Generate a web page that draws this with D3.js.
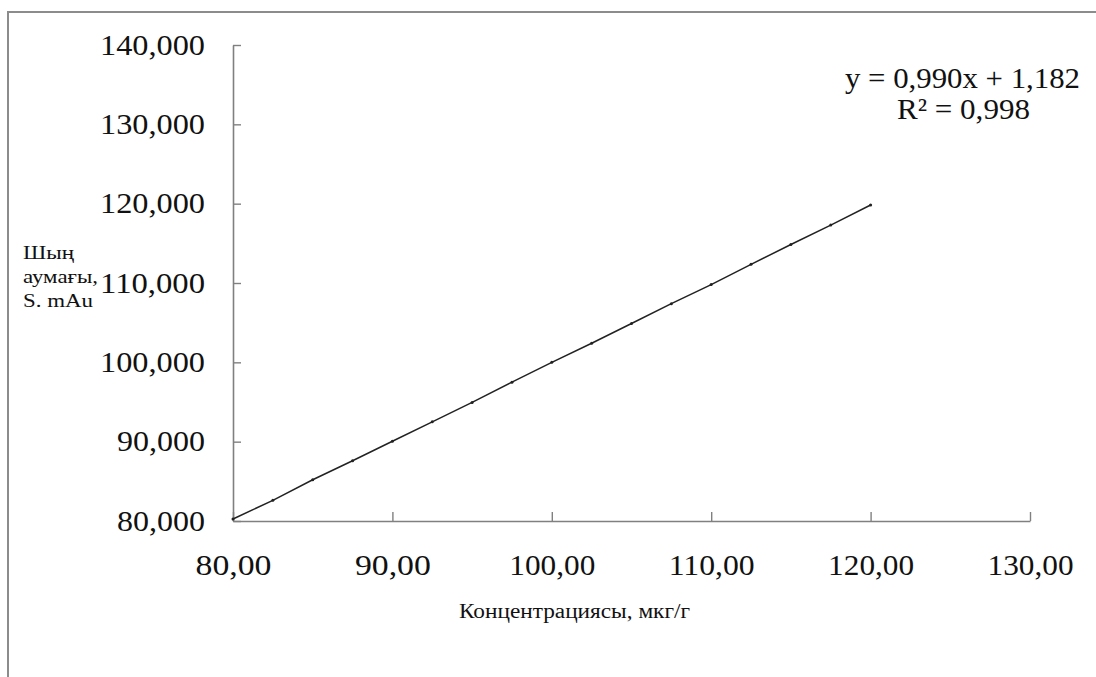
<!DOCTYPE html>
<html>
<head>
<meta charset="utf-8">
<script src="https://cdn.jsdelivr.net/npm/d3@7"></script>
<style>
  html, body { margin: 0; padding: 0; background: #fff; }
  svg { display: block; }
  text { font-family: "Times New Roman", "Liberation Serif", serif; fill: #111; }
</style>
</head>
<body>
<svg id="chart" width="1096" height="677"></svg>
<script>
// Calibration data: concentration (мкг/г) vs peak area (S. mAu)
const concentration = [80, 82.5, 85, 87.5, 90, 92.5, 95, 97.5, 100, 102.5, 105, 107.5, 110, 112.5, 115, 117.5, 120];
const peakArea = [80250, 82600, 85200, 87600, 90050, 92500, 94950, 97500, 100000, 102400, 104900, 107400, 109800, 112350, 114850, 117300, 119830];

const xTicks = [80, 90, 100, 110, 120, 130];
const yTicks = [80000, 90000, 100000, 110000, 120000, 130000, 140000];

const xTitle = "Концентрациясы, мкг/г";
const yTitleLines = ["Шың", "аумағы,", "S. mAu"];
const equationLines = ["y = 0,990x + 1,182", "R² = 0,998"];

const serif = "'Times New Roman', 'Liberation Serif', serif";
const svg = d3.select("#chart");
const W = 1096, H = 677;

// outer frame
svg.append("rect")
  .attr("x", 8).attr("y", 12)
  .attr("width", W).attr("height", H)
  .attr("fill", "none").attr("stroke", "#8c8c8c").attr("stroke-width", 2);

const x = d3.scaleLinear().domain([80, 130]).range([233, 1030]);
const y = d3.scaleLinear().domain([80000, 140000]).range([521, 45]);

const fmtX = v => d3.format(".2f")(v).replace(".", ",");
const fmtY = v => d3.format(",.0f")(v / 1000) + ",000";

// x axis with inward ticks
const gx = svg.append("g").attr("transform", `translate(0,${y(80000)})`)
  .call(d3.axisBottom(x).tickValues(xTicks).tickSize(-9).tickSizeOuter(0).tickFormat(fmtX))
  .attr("font-family", serif);
gx.select(".domain").attr("stroke", "#808080").attr("stroke-width", 1.6);
gx.selectAll(".tick line").attr("stroke", "#808080").attr("stroke-width", 1.4);
gx.selectAll(".tick text")
  .attr("y", 54).attr("dy", 0)
  .attr("textLength", d => d >= 100 ? 86 : 76).attr("lengthAdjust", "spacingAndGlyphs")
  .style("font-family", serif).style("font-size", "29px").attr("fill", "#111");

// y axis with inward ticks
const gy = svg.append("g").attr("transform", `translate(${x(80)},0)`)
  .call(d3.axisLeft(y).tickValues(yTicks).tickSize(-8).tickSizeOuter(0).tickFormat(fmtY))
  .attr("font-family", serif);
gy.select(".domain").attr("stroke", "#808080").attr("stroke-width", 1.6);
gy.selectAll(".tick line").attr("stroke", "#808080").attr("stroke-width", 1.4);
gy.selectAll(".tick text")
  .attr("x", -28).attr("dy", "0.32em")
  .attr("textLength", d => d >= 100000 ? 105 : 88).attr("lengthAdjust", "spacingAndGlyphs")
  .style("font-family", serif).style("font-size", "29px").attr("fill", "#111");

// calibration line with small point markers
const pts = concentration.map((c, i) => [c, peakArea[i]]);
svg.append("path")
  .datum(pts)
  .attr("fill", "none").attr("stroke", "#222").attr("stroke-width", 1.5)
  .attr("d", d3.line().x(d => x(d[0])).y(d => y(d[1])));
svg.selectAll("circle.pt").data(pts).enter().append("circle")
  .attr("class", "pt")
  .attr("cx", d => x(d[0])).attr("cy", d => y(d[1]))
  .attr("r", 1.5).attr("fill", "#222");

// axis titles
svg.append("text")
  .attr("x", 459).attr("y", 618)
  .attr("textLength", 231).attr("lengthAdjust", "spacingAndGlyphs")
  .style("font-size", "20px")
  .text(xTitle);

const yTitleWidths = [51, 75, 70];
yTitleLines.forEach((t, i) => {
  svg.append("text")
    .attr("x", 23).attr("y", 259 + i * 24)
    .attr("textLength", yTitleWidths[i]).attr("lengthAdjust", "spacingAndGlyphs")
    .style("font-size", "19px")
    .text(t);
});

// regression equation
svg.append("text")
  .attr("x", 845).attr("y", 88)
  .attr("textLength", 235).attr("lengthAdjust", "spacingAndGlyphs")
  .style("font-size", "30px")
  .text(equationLines[0]);
svg.append("text")
  .attr("x", 897).attr("y", 119)
  .attr("textLength", 133).attr("lengthAdjust", "spacingAndGlyphs")
  .style("font-size", "30px")
  .text(equationLines[1]);
</script>
</body>
</html>
